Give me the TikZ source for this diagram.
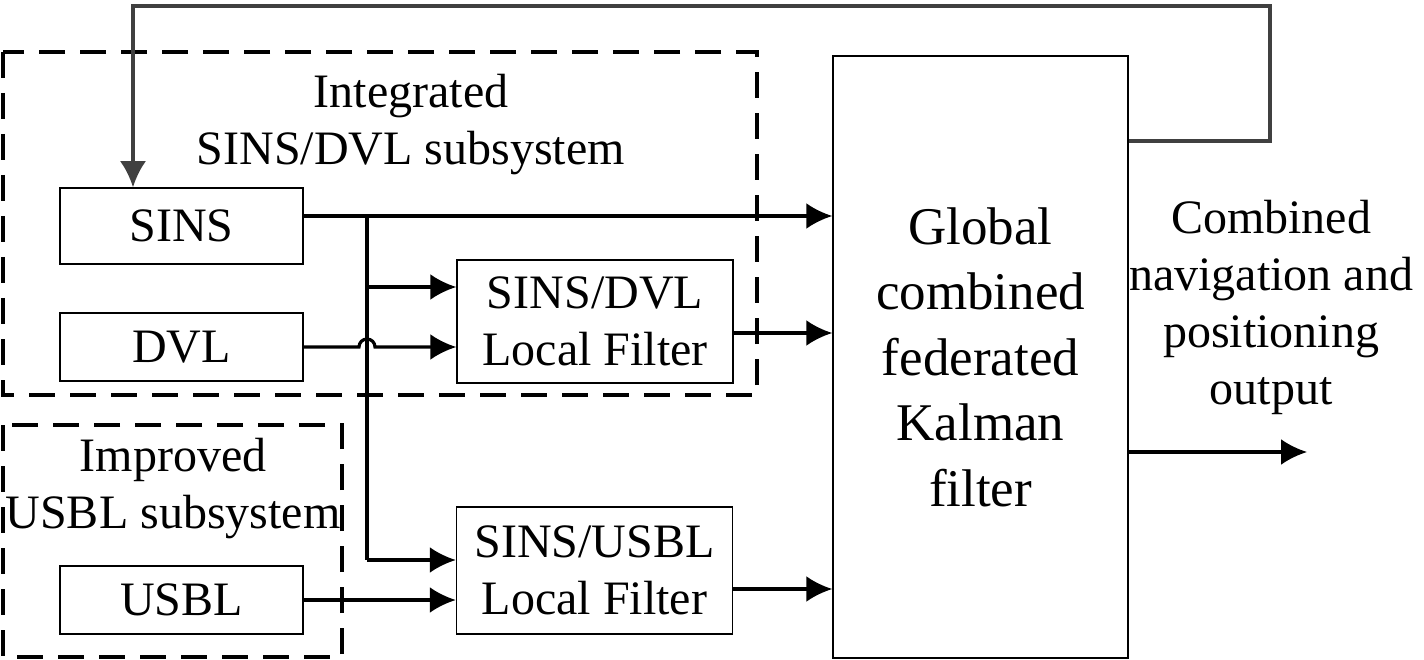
\documentclass[tikz,border=0pt]{standalone}
\usepackage{fontspec}
\setmainfont{Liberation Serif}
\usetikzlibrary{arrows.meta}
\begin{document}
\begin{tikzpicture}[x=1pt,y=-1pt,
  blk/.style={draw,line width=1.5pt,inner sep=0pt,align=center,font=\fontsize{48}{57}\selectfont},
  lbl/.style={inner sep=0pt,align=center,font=\fontsize{48}{57}\selectfont},
  conn/.style={line width=3.2pt,-{Latex[length=26pt,width=26pt]}},
  wire/.style={line width=3.2pt},
  grp/.style={line width=3.5pt,dash pattern=on 26pt off 15pt},
  fb/.style={line width=3.4pt,draw=black!75,-{Latex[length=26pt,width=26pt]}}]
\useasboundingbox (0,0) rectangle (1424,660);
% dashed groups
\draw[grp] (3,52) rectangle (757,395);
\draw[grp] (3,425) rectangle (342,657);
% blocks
\node[blk,minimum width=243pt,minimum height=76pt] (sins) at (181.5,226) {SINS};
\node[blk,minimum width=243pt,minimum height=68pt] (dvl) at (181.5,347) {DVL};
\node[blk,minimum width=243pt,minimum height=68pt] (usbl) at (181.5,600) {USBL};
\node[blk,minimum width=276pt,minimum height=123pt] (sdvl) at (595,321.5) {SINS/DVL\\Local Filter};
\node[blk,minimum width=276pt,minimum height=127pt] (susbl) at (594.5,570.5) {SINS/USBL\\Local Filter};
\node[blk,minimum width=295pt,minimum height=602pt,font=\fontsize{53}{65.5}\selectfont] (glob) at (980.5,357) {Global\\combined\\federated\\Kalman\\filter};
% labels
\node[lbl] (l1) at (411,125) {Integrated\\SINS/DVL subsystem};
\node[lbl] (l2) at (173,489) {Improved\\USBL subsystem};
\node[lbl] (l3) at (1271,307) {Combined\\navigation and\\positioning\\output};
% coordinates
\coordinate (s0) at ([yshift=10pt]sins.east);
\coordinate (bt) at (367,216);
\coordinate (b1) at (367,287);
\coordinate (bb) at (367,560);
\coordinate (hop) at (359,347);
\coordinate (s1) at ([yshift=-11.5pt]sdvl.east);
\coordinate (s2) at ([yshift=-18.5pt]susbl.east);
\coordinate (o3) at ([yshift=-95pt]glob.east);
\coordinate (outend) at (1307,452);
\coordinate (f0) at ([yshift=216pt]glob.east);
\coordinate (fbr) at (1270,6);
\coordinate (fbx) at (133,6);
% connectors
\draw[conn] (s0) -- (s0 -| glob.west);
\draw[wire] (bt) -- (bb);
\draw[conn] (b1) -- (b1 -| sdvl.west);
\draw[conn] (bb) -- (bb -| susbl.west);
\draw[conn] (dvl.east) -- (hop) arc[start angle=180,end angle=0,radius=8pt] -- (dvl.east -| sdvl.west);
\draw[conn] (usbl.east) -- (usbl.east -| susbl.west);
\draw[conn] (s1) -- (s1 -| glob.west);
\draw[conn] (s2) -- (s2 -| glob.west);
\draw[conn] (o3) -- (outend);
\draw[fb] (f0) -| (fbr) -| (sins.north -| fbx);
\end{tikzpicture}
\end{document}
